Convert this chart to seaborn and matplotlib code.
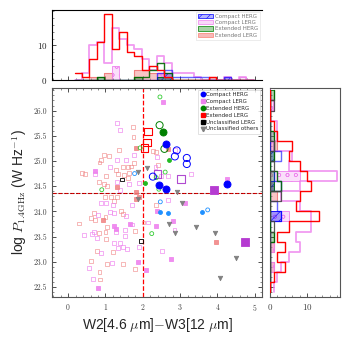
import numpy as np
import matplotlib
matplotlib.use("Agg")
import matplotlib.pyplot as plt
import seaborn as sns
from matplotlib.lines import Line2D
from matplotlib.patches import Patch

sns.set_style("ticks")
plt.rcParams["font.family"] = ["cmr10", "DejaVu Serif"]
plt.rcParams["mathtext.fontset"] = "cm"
plt.rcParams["axes.formatter.use_mathtext"] = True
plt.rcParams["hatch.linewidth"] = 0.4

# ---------------- scatter data ----------------
chg_big_x = [2.61, 2.44, 2.62, 4.26]
chg_big_y = [25.34, 24.53, 24.45, 24.55]
chg_bigopen_x = [2.91, 2.86, 3.18, 3.18, 2.27]
chg_bigopen_y = [25.21, 25.09, 25.06, 24.94, 24.69]
chg_small_x = [2.47, 2.68, 3.58]
chg_small_y = [23.98, 23.97, 23.98]
chg_smallopen_x = [3.74, 2.47, 1.78]
chg_smallopen_y = [24.03, 24.19, 24.75]

clg_open_x = [1.32, 1.40, 1.32, 1.54, 1.77, 1.12, 0.72, 1.30, 1.63, 1.40, 1.89,
              0.89, 1.02, 1.21, 1.72, 0.79, 1.12, 1.24, 1.55, 1.72, 2.15, 0.43,
              0.64, 0.70, 0.76, 1.27, 1.52, 1.52, 1.24, 1.39, 1.48, 1.33, 0.87,
              1.57, 1.89, 1.18, 0.56, 0.67, 2.87, 2.39, 2.34, 2.50, 2.68, 3.30,
              2.67, 2.52, 2.85]
clg_open_y = [25.75, 25.62, 25.02, 25.02, 25.12, 24.88, 24.75, 24.59, 24.54, 24.42, 24.57,
              24.16, 24.16, 24.13, 24.13, 23.92, 23.99, 23.96, 23.91, 23.74, 23.78, 23.53,
              23.56, 23.59, 23.48, 23.60, 23.63, 23.52, 23.38, 23.37, 23.30, 23.27, 23.18,
              23.25, 23.29, 22.98, 22.87, 22.66, 25.22, 25.08, 24.88, 24.70, 24.70, 24.75,
              24.23, 23.21, 23.63]
clg_fill_x = [2.53, 4.25, 2.59, 2.80, 2.36, 2.76, 2.09, 1.88, 0.81, 3.13, 2.39,
              0.72, 1.24, 1.28, 1.65]
clg_fill_y = [26.17, 24.65, 24.47, 23.80, 23.72, 23.05, 22.84, 23.00, 22.49, 24.17, 24.01,
              24.81, 23.72, 23.66, 23.75]
clg_big_x = [3.91, 4.75]
clg_big_y = [24.43, 23.39]
clg_bigopen_x = [3.02, 2.40]
clg_bigopen_y = [24.64, 24.74]

elg_open_x = [1.74, 1.75, 1.35, 0.95, 1.09, 0.87, 0.84, 1.27, 1.46, 1.61, 1.68,
              1.76, 0.44, 0.38, 1.02, 1.33, 1.49, 1.63, 0.83, 0.97, 1.03, 1.61,
              0.99, 1.15, 1.32, 1.24, 0.68, 0.62, 0.72, 1.00, 1.42, 1.46, 2.02,
              0.29, 0.82, 1.00, 1.02, 1.05, 1.79, 0.76, 1.21, 0.61, 1.03, 1.47,
              1.79, 0.84, 0.85, 2.36, 2.41, 2.27, 2.36]
elg_open_y = [25.68, 25.48, 25.22, 25.12, 25.10, 25.02, 24.97, 24.83, 24.88, 24.88, 24.89,
              24.96, 24.75, 24.76, 24.71, 24.75, 24.73, 24.76, 24.59, 24.54, 24.50, 24.66,
              24.28, 24.28, 24.29, 24.20, 23.97, 23.87, 23.83, 23.89, 24.01, 23.94, 23.78,
              23.76, 23.58, 23.59, 23.45, 23.70, 23.62, 23.21, 23.20, 23.01, 22.95, 22.95,
              22.86, 22.80, 22.65, 25.18, 24.92, 25.20, 24.13]
elg_fill_x = [1.83, 2.67, 3.95, 1.30, 1.83, 0.92, 1.91, 1.83]
elg_fill_y = [25.26, 25.23, 23.40, 24.49, 24.39, 23.83, 24.29, 24.25]
elg_big_x = [2.14, 2.11, 2.05]
elg_big_y = [25.59, 25.36, 25.26]

ehg_big_x = [2.53]
ehg_big_y = [25.58]
ehg_bigopen_x = [2.45, 2.58]
ehg_bigopen_y = [25.71, 25.24]
ehg_small_x = [2.71, 2.07]
ehg_small_y = [25.02, 24.56]
ehg_smallopen_x = [2.46, 1.93, 2.60, 2.36, 2.43, 0.90, 2.24]
ehg_smallopen_y = [26.27, 25.26, 24.78, 24.67, 24.44, 24.43, 23.56]

ulg_x = [1.45, 1.95]
ulg_y = [24.63, 23.42]
uo_x = [2.11, 2.93, 3.06, 2.71, 2.86, 3.42, 3.93, 4.49, 4.06, 1.86, 1.88]
uo_y = [24.86, 24.39, 24.16, 23.75, 23.58, 23.70, 23.58, 23.08, 22.68, 24.24, 24.78]

# ---------------- histogram data ----------------
top_edges = [0.17 + 0.2 * k for k in range(25)]
top_elg_step = [2, 1, 6, 11, 19, 9, 14, 8, 7, 3, 4, 3, 1, 0, 0, 0, 0, 0, 1, 0, 0, 0, 0, 0]
top_clg_step = [0, 2, 10, 11, 5, 15, 12, 10, 9, 6, 3, 7, 5, 2, 2, 2, 1, 0, 0, 0, 1, 0, 1, 0]
top_ehg_step = [0, 0, 0, 1, 0, 0, 0, 0, 1, 1, 3, 5, 2, 0, 0, 0, 0, 0, 0, 0, 0, 0, 0, 0]
top_chg_step = [0, 0, 0, 0, 0, 0, 0, 0, 0, 0, 0, 2, 3, 1, 1, 1, 1, 1, 0, 0, 1, 0, 0, 0]
top_elg_fill = [0, 0, 1, 0, 2, 0, 0, 0, 3, 3, 2, 2, 2, 0, 0, 0, 0, 0, 1, 0, 0, 0, 0, 0]
top_clg_fill = [0, 0, 0, 0, 0, 4, 0, 0, 0, 0, 0, 2, 1, 0, 0, 0, 0, 0, 0, 0, 1, 0, 1, 0]
top_chg_fill = [0, 0, 0, 0, 0, 0, 0, 0, 0, 0, 0, 1, 2, 0, 0, 0, 0, 0, 0, 0, 1, 0, 0, 0]
top_ehg_fill = [0, 0, 0, 1, 0, 0, 0, 0, 1, 0, 0, 1, 1, 0, 0, 0, 0, 0, 0, 0, 0, 0, 0, 0]

right_edges = [22.4 + 0.2 * k for k in range(21)]
# counts from bottom bin [22.4,22.6] upward to [26.2,26.4]
right_elg_step = [0, 1, 4, 2, 4, 2, 5, 13, 7, 8, 11, 10, 8, 5, 6, 2, 1, 0, 0, 0]
right_clg_step = [1, 2, 3, 5, 8, 7, 11, 11, 8, 3, 8, 18, 5, 6, 1, 2, 2, 0, 1, 0]
right_ehg_step = [0, 0, 0, 0, 0, 1, 0, 0, 0, 0, 3, 2, 0, 1, 1, 1, 0, 0, 0, 1]
right_chg_step = [0, 0, 0, 0, 0, 0, 0, 3, 2, 0, 3, 1, 0, 3, 0, 0, 0, 0, 0, 0]
right_ulg_step = [0, 0, 0, 0, 0, 0, 1, 0, 0, 3, 0, 0, 1, 0, 1, 0, 0, 0, 1, 0]
right_elg_fill = [0, 0, 1, 0, 1, 0, 0, 0, 0, 2, 1, 0, 0, 0, 2, 0, 0, 0, 0, 0]
right_clg_fill = [0, 0, 1, 0, 1, 0, 0, 5, 0, 0, 0, 8, 0, 0, 1, 1, 0, 0, 1, 0]
right_chg_fill = [0, 0, 0, 0, 0, 0, 0, 3, 0, 0, 1, 0, 0, 1, 0, 0, 0, 0, 0, 0]
right_ehg_fill = [0, 0, 0, 0, 0, 1, 0, 0, 0, 0, 1, 1, 0, 1, 0, 1, 0, 0, 0, 1]

xlim = (-0.43, 5.2)
ylim = (22.3, 26.45)
vline_x = 2.0
hline_y = 24.37

fig = plt.figure(figsize=(3.5, 3.5), dpi=100)
ax = fig.add_axes([0.149, 0.151, 0.600, 0.598])
axt = fig.add_axes([0.149, 0.771, 0.600, 0.200])
axr = fig.add_axes([0.771, 0.151, 0.200, 0.598])

SPC = "#555555"


def sc(xs, ys, marker, s, color, filled=True, lw=0.6, alpha=1.0, z=3):
    if filled:
        sns.scatterplot(x=xs, y=ys, marker=marker, s=s, color=color, edgecolor=color,
                        linewidth=lw, alpha=alpha, ax=ax, zorder=z, legend=False)
    else:
        sns.scatterplot(x=xs, y=ys, marker=marker, s=s, facecolor="none", edgecolor=color,
                        linewidth=lw, alpha=alpha, ax=ax, zorder=z, legend=False)


salmon = "#f08080"
violet = "#ee82ee"
sc(elg_open_x, elg_open_y, "s", 8, salmon, filled=False, lw=0.6, alpha=0.65)
sc(clg_open_x, clg_open_y, "s", 8, violet, filled=False, lw=0.6, alpha=0.75)
sc(elg_fill_x, elg_fill_y, "s", 7, salmon, alpha=0.85)
sc(clg_fill_x, clg_fill_y, "s", 7, violet, alpha=0.9)
sc(clg_big_x, clg_big_y, "s", 28, "#b53bd1")
sc(clg_bigopen_x, clg_bigopen_y, "s", 28, "#b04ad0", filled=False, lw=0.8)
sc(elg_big_x, elg_big_y, "s", 28, "red", filled=False, lw=0.8)
sc(ehg_smallopen_x, ehg_smallopen_y, "o", 8, "#33cc33", filled=False, lw=0.6)
sc(ehg_small_x, ehg_small_y, "o", 8, "#22bb22")
sc(ehg_bigopen_x, ehg_bigopen_y, "o", 26, "green", filled=False, lw=0.7)
sc(ehg_big_x, ehg_big_y, "o", 26, "green")
sc(chg_small_x, chg_small_y, "o", 8, "dodgerblue")
sc(chg_smallopen_x, chg_smallopen_y, "o", 8, "dodgerblue", filled=False, lw=0.6)
sc(chg_bigopen_x, chg_bigopen_y, "o", 26, "blue", filled=False, lw=0.7)
sc(chg_big_x, chg_big_y, "o", 26, "blue")
sc(ulg_x, ulg_y, "s", 7, "black", filled=False, lw=0.6)
sc(uo_x, uo_y, "v", 10, "gray")

ax.axvline(vline_x, color="red", ls="--", lw=0.9, zorder=2)
ax.axhline(hline_y, color="red", ls="--", lw=0.8, zorder=2)
ax.axhline(hline_y, color="black", ls="--", lw=0.4, alpha=0.6, zorder=2)
ax.set_xlim(*xlim)
ax.set_ylim(*ylim)
ax.set_xticks([0, 1, 2, 3, 4, 5])
ax.set_yticks(np.arange(22.5, 26.01, 0.5))
ax.set_yticklabels([f"{v:.1f}" for v in np.arange(22.5, 26.01, 0.5)])
ax.set_xticks(np.arange(-0.4, 5.2, 0.2), minor=True)
ax.set_yticks(np.arange(22.3, 26.45, 0.1), minor=True)
ax.tick_params(which="both", direction="in", top=True, right=True, labelsize=5.5,
               colors="#333333", labelcolor="#444444")
ax.tick_params(which="major", length=3, width=0.6)
ax.tick_params(which="minor", length=1.5, width=0.4)
for sp in ax.spines.values():
    sp.set_color(SPC)
    sp.set_linewidth(0.8)
ax.set_xlabel(r"W2[4.6 $\mu$m]$-$W3[12 $\mu$m]", fontsize=10, family="Liberation Sans", labelpad=2)
ax.set_ylabel(r"log $P_{1.4\mathrm{GHz}}$ (W Hz$^{-1}$)", fontsize=10, family="Liberation Sans", labelpad=3)

handles = [
    Line2D([], [], marker="o", ls="none", color="blue", markersize=3.2),
    Line2D([], [], marker="s", ls="none", color="violet", markersize=3.2),
    Line2D([], [], marker="o", ls="none", color="green", markersize=3.2),
    Line2D([], [], marker="s", ls="none", color="red", markersize=3.2),
    Line2D([], [], marker="s", ls="none", color="black", markersize=3.2),
    Line2D([], [], marker="v", ls="none", color="gray", markersize=3.2),
]
labels = ["Compact HERG", "Compact LERG", "Extended HERG", "Extended LERG",
          "Unclassified LERG", "Unclassified others"]
leg = ax.legend(handles, labels, loc="upper right", prop={"family": "DejaVu Sans", "size": 4},
                handletextpad=0.1, borderpad=0.4, labelspacing=0.35, handlelength=1.0,
                frameon=True, fancybox=False, edgecolor="#cccccc", borderaxespad=0.3)
leg.get_frame().set_linewidth(0.5)

# ---------------- top histogram ----------------
tc = [0.5 * (top_edges[i] + top_edges[i + 1]) for i in range(len(top_edges) - 1)]


def th(counts, color, fill, alpha, lw, hatch=None, z=2):
    kw = dict(x=tc, weights=counts, bins=top_edges, element="step", ax=axt, legend=False)
    if fill:
        sns.histplot(**kw, fill=True, color=color, alpha=alpha, linewidth=lw,
                     edgecolor=color, hatch=hatch, zorder=z)
    else:
        sns.histplot(**kw, fill=False, color=color, alpha=alpha, linewidth=lw, zorder=z)


th(top_elg_fill, salmon, True, 0.45, 0.8)
th(top_clg_fill, violet, True, 0.25, 0.6, hatch="oo")
th(top_chg_fill, "blue", True, 0.3, 0.6, hatch="////")
th(top_ehg_fill, "green", True, 0.35, 0.6)
th(top_clg_step, "violet", False, 0.8, 1.3, z=3)
th(top_chg_step, "blue", False, 0.6, 1.0, z=3)
th(top_ehg_step, "darkgreen", False, 0.9, 1.0, z=3)
th(top_elg_step, "red", False, 1.0, 1.0, z=4)
axt.set_xlim(*xlim)
axt.set_ylim(0, 20.2)
axt.set_xticks([0, 1, 2, 3, 4, 5])
axt.set_xticks(np.arange(-0.4, 5.2, 0.2), minor=True)
axt.set_yticks([0, 10])
axt.set_yticks(np.arange(0, 20.2, 2), minor=True)
axt.set_xticklabels([])
axt.set_xlabel("")
axt.set_ylabel("")
axt.tick_params(which="both", direction="in", labelsize=6.5, colors="#333333", labelcolor="#222222")
axt.tick_params(which="major", length=3, width=0.6)
axt.tick_params(which="minor", length=1.5, width=0.4)
for sp in axt.spines.values():
    sp.set_color("black")
    sp.set_linewidth(0.8)
axt.spines["right"].set_visible(False)
hh = [
    Patch(facecolor=(0, 0, 1, 0.3), edgecolor="blue", hatch="////", linewidth=0.5),
    Patch(facecolor=(0.93, 0.51, 0.93, 0.3), edgecolor="violet", linewidth=0.5),
    Patch(facecolor=(0, 0.5, 0, 0.35), edgecolor="green", linewidth=0.5),
    Patch(facecolor=(0.94, 0.5, 0.5, 0.55), edgecolor="salmon", linewidth=0.5),
]
hl = ["Compact HERG", "Compact LERG", "Extended HERG", "Extended LERG"]
leg2 = axt.legend(hh, hl, loc="upper right", prop={"family": "DejaVu Sans", "size": 4},
                  labelcolor="#777777", handlelength=2.6, handleheight=0.8, handletextpad=0.4,
                  labelspacing=0.2, borderpad=0.4, frameon=True, fancybox=False,
                  edgecolor="#dddddd", borderaxespad=0.3)
leg2.get_frame().set_linewidth(0.5)

# ---------------- right histogram ----------------
rc = [0.5 * (right_edges[i] + right_edges[i + 1]) for i in range(len(right_edges) - 1)]


def rh(counts, color, fill, alpha, lw, hatch=None, z=2):
    kw = dict(y=rc, weights=counts, bins=right_edges, element="step", ax=axr, legend=False)
    if fill:
        sns.histplot(**kw, fill=True, color=color, alpha=alpha, linewidth=lw,
                     edgecolor=color, hatch=hatch, zorder=z)
    else:
        sns.histplot(**kw, fill=False, color=color, alpha=alpha, linewidth=lw, zorder=z)


rh(right_elg_fill, salmon, True, 0.45, 0.8)
rh(right_clg_fill, violet, True, 0.25, 0.6, hatch="oo")
rh(right_chg_fill, "blue", True, 0.35, 0.6, hatch="////")
rh(right_ehg_fill, "green", True, 0.3, 0.6)
rh(right_clg_step, "violet", False, 0.8, 1.3, z=3)
rh(right_chg_step, "blue", False, 0.6, 1.0, z=3)
rh(right_ehg_step, "darkgreen", False, 0.9, 1.0, z=3)
rh(right_ulg_step, "#444444", False, 0.9, 0.9, z=3)
rh(right_elg_step, "red", False, 1.0, 1.0, z=4)
axr.set_ylim(*ylim)
axr.set_xlim(0, 18.7)
axr.set_xticks([0, 10])
axr.set_xticks(np.arange(0, 18.7, 2), minor=True)
axr.set_yticks(np.arange(22.5, 26.01, 0.5))
axr.set_yticks(np.arange(22.3, 26.45, 0.1), minor=True)
axr.set_yticklabels([])
axr.set_xlabel("")
axr.set_ylabel("")
axr.tick_params(which="both", direction="in", labelsize=6.5, colors="#333333", labelcolor="#444444")
axr.tick_params(which="major", length=3, width=0.6)
axr.tick_params(which="minor", length=1.5, width=0.4)
for sp in axr.spines.values():
    sp.set_color(SPC)
    sp.set_linewidth(0.8)

fig.savefig("out.png", dpi=100)
